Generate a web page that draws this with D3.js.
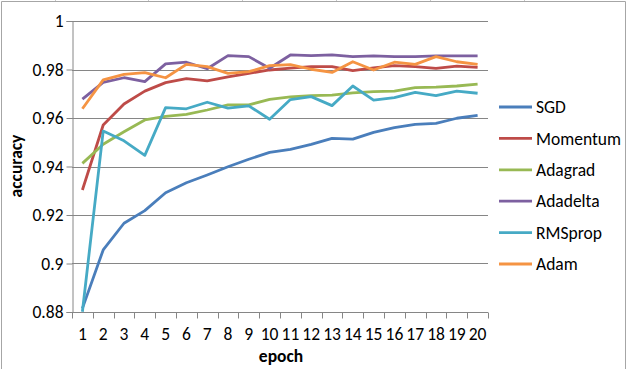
<!DOCTYPE html>
<html><head><meta charset="utf-8">
<script src="https://cdn.jsdelivr.net/npm/d3@7"></script>
<style>body{margin:0;background:#fff}svg{display:block}text{font-family:Carlito,Calibri,Lato,"Open Sans",sans-serif}</style>
</head><body><svg id="c" width="626" height="369"></svg>
<script>
const epochs = d3.range(1, 21).map(String);
const yTicks = [0.88, 0.9, 0.92, 0.94, 0.96, 0.98, 1];
const seriesNames = ["SGD", "Momentum", "Adagrad", "Adadelta", "RMSprop", "Adam"];
const seriesColors = ["#4a7ebb", "#be4b48", "#98b954", "#7d60a0", "#46aac5", "#f59443"];
const sgd = [0.8815,0.9056,0.9166,0.9218,0.9292,0.9333,0.9365,0.9399,0.943,0.9458,0.9471,0.9491,0.9516,0.9513,0.9541,0.956,0.9574,0.9578,0.9599,0.9611];
const momentum = [0.9303,0.9571,0.9658,0.9711,0.9746,0.9762,0.9753,0.977,0.9784,0.9798,0.9806,0.9812,0.9812,0.9795,0.9807,0.9816,0.9812,0.9805,0.9814,0.9809];
const adagrad = [0.9413,0.9492,0.9543,0.9592,0.9607,0.9615,0.9633,0.9654,0.9654,0.9677,0.9687,0.9692,0.9694,0.9704,0.9709,0.9711,0.9725,0.9727,0.9732,0.974];
const adadelta = [0.9678,0.9747,0.9766,0.975,0.9823,0.983,0.9803,0.9857,0.9853,0.9805,0.986,0.9857,0.986,0.9853,0.9856,0.9853,0.9853,0.9856,0.9856,0.9856];
const rmsprop = [0.8801,0.9546,0.9506,0.9446,0.9643,0.9638,0.9665,0.9641,0.965,0.9595,0.9676,0.9688,0.9651,0.9732,0.9674,0.9684,0.9706,0.9692,0.9711,0.9702];
const adam = [0.9638,0.9757,0.978,0.9787,0.9766,0.9821,0.9812,0.9784,0.9791,0.9816,0.982,0.9801,0.9788,0.9832,0.9798,0.983,0.9821,0.9853,0.9832,0.9821];
const seriesValues = [sgd, momentum, adagrad, adadelta, rmsprop, adam];

const svg = d3.select("#c");
const L = 72, R = 488, T = 21, B = 312;
const FS = 17.5;
const x = d3.scaleBand().domain(epochs).range([L, R]);
const y = d3.scaleLinear().domain([0.88, 1]).range([B, T]);

// frame
svg.append("path").attr("d", "M1.5,369V1.5H625.5V369").attr("fill","none").attr("stroke","#a6a6a6").attr("stroke-width",1);
[55,148,242,336,430,524].forEach(px => svg.append("line").attr("x1",px+0.5).attr("x2",px+0.5).attr("y1",0).attr("y2",1).attr("stroke","#c8c8c8"));

// gridlines
svg.append("g").selectAll("line").data(yTicks).join("line")
  .attr("x1", L).attr("x2", R).attr("y1", d => Math.round(y(d))+0.5).attr("y2", d => Math.round(y(d))+0.5)
  .attr("stroke", "#868686").attr("stroke-width", 1);

// y axis
const ya = svg.append("g").attr("transform", `translate(${L+0.5},0)`)
  .call(d3.axisLeft(y).tickValues(yTicks).tickSize(6).tickPadding(3).tickFormat(d => d3.format("")(+d.toFixed(2))));
ya.select(".domain").attr("stroke", "#868686");
ya.selectAll(".tick line").attr("stroke", "#868686");
ya.selectAll("text").attr("font-size", FS).attr("fill", "#000");

// x axis
const xa = svg.append("g").attr("transform", `translate(0,${B+0.5})`)
  .call(d3.axisBottom(x).tickSize(0).tickPadding(15));
xa.select(".domain").attr("stroke", "#868686").attr("d", `M${L},0H${R}`);
xa.selectAll("text").attr("font-size", FS).attr("fill", "#000");
xa.append("g").selectAll("line").data(d3.range(0, 21)).join("line")
  .attr("x1", i => Math.round(L + i * x.step())+0.5).attr("x2", i => Math.round(L + i * x.step())+0.5)
  .attr("y1", 0).attr("y2", 6).attr("stroke", "#868686");

// lines
const line = d3.line().x((d, i) => x(epochs[i]) + x.bandwidth()/2).y(d => y(d));
seriesNames.forEach((n, k) => {
  svg.append("path").datum(seriesValues[k]).attr("d", line)
    .attr("fill", "none").attr("stroke", seriesColors[k]).attr("stroke-width", 2.8).attr("stroke-linejoin", "round");
});

// axis titles
svg.append("text").attr("transform", "translate(22,166) rotate(-90)").attr("text-anchor","middle")
  .attr("font-size", FS).attr("font-weight","bold").text("accuracy");
svg.append("text").attr("x", 281).attr("y", 362).attr("text-anchor","middle")
  .attr("font-size", FS).attr("font-weight","bold").text("epoch");

// legend
const lg = svg.append("g").selectAll("g").data(seriesNames).join("g")
  .attr("transform", (d, i) => `translate(499,${107 + i * 31.4})`);
lg.append("line").attr("x1", 0).attr("x2", 33).attr("stroke", (d, i) => seriesColors[i]).attr("stroke-width", 2.8);
lg.append("text").attr("x", 37).attr("dy", "0.35em").attr("font-size", FS).text(d => d);
</script></body></html>
